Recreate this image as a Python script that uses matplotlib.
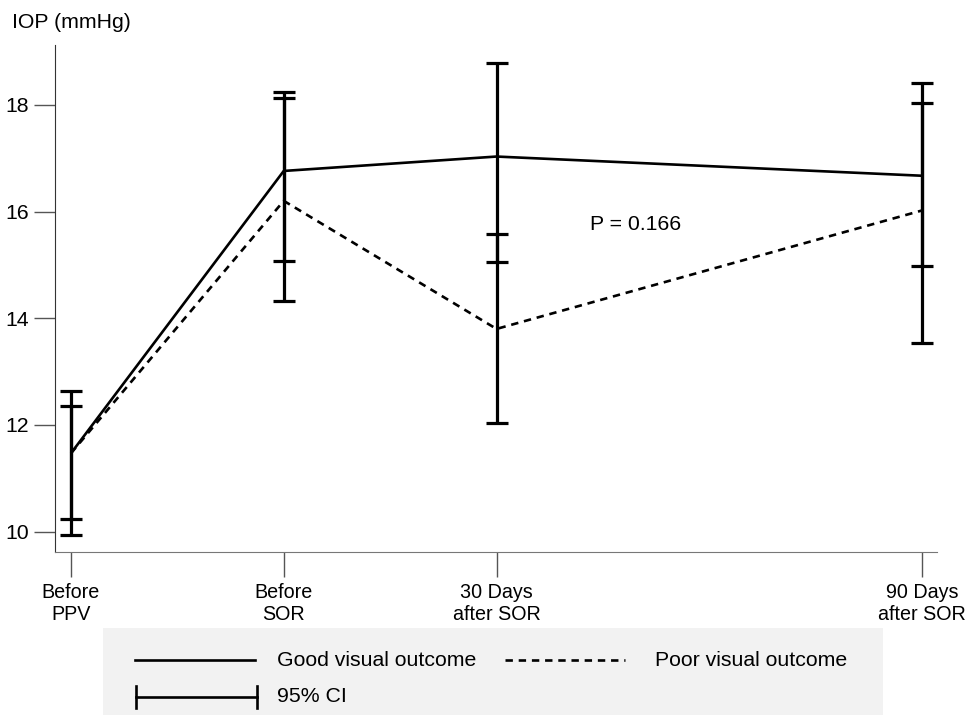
import matplotlib.pyplot as plt
from matplotlib.patches import Rectangle

plt.rcParams['font.family'] = ['Liberation Sans', 'DejaVu Sans']

# time points (spacing as drawn on the axis)
labels = ["Before\nPPV", "Before\nSOR", "30 Days\nafter SOR", "90 Days\nafter SOR"]
xpos = [0, 1, 2, 4]

good_mean = [11.47, 16.76, 17.03, 16.67]
good_lo = [10.24, 15.08, 15.06, 14.98]
good_hi = [12.36, 18.23, 18.79, 18.40]

poor_mean = [11.47, 16.20, 13.80, 16.02]
poor_lo = [9.93, 14.32, 12.03, 13.54]
poor_hi = [12.64, 18.12, 15.57, 18.04]

fs = 15.3

fig = plt.figure(figsize=(9.66, 7.15), dpi=100)
ax = fig.add_axes([55/966, 163/715, (937-55)/966, (670-163)/715])

for m, lo, hi in [(good_mean, good_lo, good_hi), (poor_mean, poor_lo, poor_hi)]:
    yerr = [[a - b for a, b in zip(m, lo)], [c - a for a, c in zip(m, hi)]]
    ax.errorbar(xpos, m, yerr=yerr, fmt='none', ecolor='black', elinewidth=2.3,
                capsize=8, capthick=2.3, zorder=2)

ax.plot(xpos, good_mean, color='black', lw=1.9, solid_capstyle='butt', zorder=3)
ax.plot(xpos, poor_mean, color='black', lw=1.9, linestyle=(0, (2.8, 2.2)), zorder=3)

ax.text(2.44, 15.75, "P = 0.166", fontsize=fs, ha='left', va='center')

ax.set_xlim(-0.075, 4.07)
ax.set_ylim(9.62, 19.12)
ax.set_xticks(xpos)
ax.set_xticklabels(labels, fontsize=14.2, linespacing=1.2)
ax.set_yticks([10, 12, 14, 16, 18])
ax.tick_params(axis='y', labelsize=fs, length=15, width=1, color='#555555', pad=4)
ax.tick_params(axis='x', length=18, width=1, color='#555555', pad=4)
for s in ['top', 'right']:
    ax.spines[s].set_visible(False)
ax.spines['left'].set_color('#333333')
ax.spines['bottom'].set_color('#777777')

fig.text(12/966, 1 - 22/715, "IOP (mmHg)", fontsize=fs, ha='left', va='center')

# legend box drawn in pixel-like coordinates
lax = fig.add_axes([0, 0, 1, 1], zorder=-1)
lax.set_xlim(0, 966)
lax.set_ylim(715, 0)
lax.axis('off')
lax.add_patch(Rectangle((103, 628), 780, 90, facecolor='#f2f2f2', edgecolor='none'))
lax.plot([135, 255], [660, 660], color='black', lw=1.9)
lax.text(277, 660, "Good visual outcome", fontsize=fs, va='center')
lax.plot([505, 625], [660, 660], color='black', lw=1.9, linestyle=(0, (2.8, 2.2)))
lax.text(655, 660, "Poor visual outcome", fontsize=fs, va='center')
lax.plot([136, 257], [697, 697], color='black', lw=1.9)
lax.plot([136, 136], [686, 708], color='black', lw=1.9)
lax.plot([257, 257], [686, 708], color='black', lw=1.9)
lax.text(277, 697, "95% CI", fontsize=fs, va='center')

fig.savefig("out.png", dpi=100)
